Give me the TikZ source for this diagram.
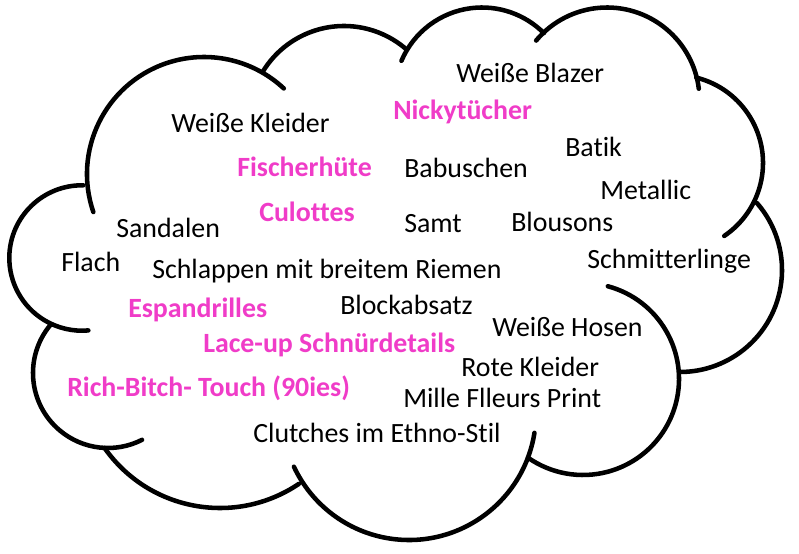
\documentclass[tikz,border=0pt]{standalone}
\usepackage{fontspec}
\setmainfont{Carlito}[Ligatures={NoCommon}]
\usetikzlibrary{positioning}
\definecolor{trendpink}{HTML}{F03CC8}
\definecolor{cloudcol}{HTML}{000000}
\tikzset{
  cloudline/.style={draw=cloudcol, line width=3.4pt, line cap=round},
  word/.style={anchor=base west, inner sep=0pt, font=\fontsize{20.9}{25}\selectfont},
  hotword/.style={word, text=trendpink, font=\fontsize{20.9}{25}\selectfont\bfseries},
}

\begin{document}
\begin{tikzpicture}[x=0.75pt, y=0.75pt]
  \useasboundingbox[fill=white] (0,0) rectangle (799,553);
  % ── cloud lobes, clockwise from the big upper-left one ───────────
  \draw[cloudline] (204,379) ++(199:117) arc[start angle=199, end angle=47,  radius=117];
  \draw[cloudline] (344,432) ++(149:95)  arc[start angle=149, end angle=49,  radius=95];
  \draw[cloudline] (482,458) ++(157:87.5) arc[start angle=157, end angle=45, radius=87.5];
  \draw[cloudline] (607,453) ++(140:92.5) arc[start angle=140, end angle=7,  radius=92.5];
  \draw[cloudline] (675,390) ++(76:88)   arc[start angle=76,  end angle=-56, radius=88];
  \draw[cloudline] (680,283) ++(41:102)  arc[start angle=41,  end angle=-90, radius=102];
  \draw[cloudline] (583,174) ++(75:96)   arc[start angle=75,  end angle=-125, radius=96];
  \draw[cloudline] (409,140) ++(-9:127)  arc[start angle=-9,  end angle=-155, radius=127];
  \draw[cloudline] (220,186) ++(215:141) arc[start angle=215, end angle=304, radius=141];
  \draw[cloudline] (108,180) ++(140:75)  arc[start angle=140, end angle=297, radius=75];
  \draw[cloudline] (82,295)  ++(89:72.7) arc[start angle=89,  end angle=275, radius=72.7];
  % ── black words ──────────────────────────────────────────────────
  \node[word] (blazer)   at (456,470) {Weiße Blazer};
  \node[word] (kleider)  at (171,420) {Weiße Kleider};
  \node[word] (batik)    at (565,396) {Batik};
  \node[word] (babusch)  at (404,375) {Babuschen};
  \node[word] (metallic) at (600,353) {Metallic};
  \node[word] (samt)     at (404,320) {Samt};
  \node[word] (blousons) at (511,321) {Blousons};
  \node[word] (sandalen) at (116,315) {Sandalen};
  \node[word] (flach)    at (61,281)  {Flach};
  \node[word] (schlapp)  at (152,274) {Schlappen mit breitem Riemen};
  \node[word] (schmitt)  at (587,284) {Schmitterlinge};
  \node[word] (block)    at (340,238) {Blockabsatz};
  \node[word] (hosen)    at (492,216) {Weiße Hosen};
  \node[word] (rote)     at (461,176) {Rote Kleider};
  \node[word] (mille)    at (403,145) {Mille Flleurs Print};
  \node[word] (clutch)   at (253,110) {Clutches im Ethno-Stil};
  % ── pink words ───────────────────────────────────────────────────
  \node[hotword] (nicky)   at (393,433) {Nickytücher};
  \node[hotword] (fischer) at (237,376) {Fischerhüte};
  \node[hotword] (culotte) at (259,331) {Culottes};
  \node[hotword] (espa)    at (128,235) {Espandrilles};
  \node[hotword] (laceup)  at (203,200) {Lace-up Schnürdetails};
  \node[hotword] (rich)    at (67,156)  {Rich-Bitch- Touch (90ies)};
\end{tikzpicture}
\end{document}
